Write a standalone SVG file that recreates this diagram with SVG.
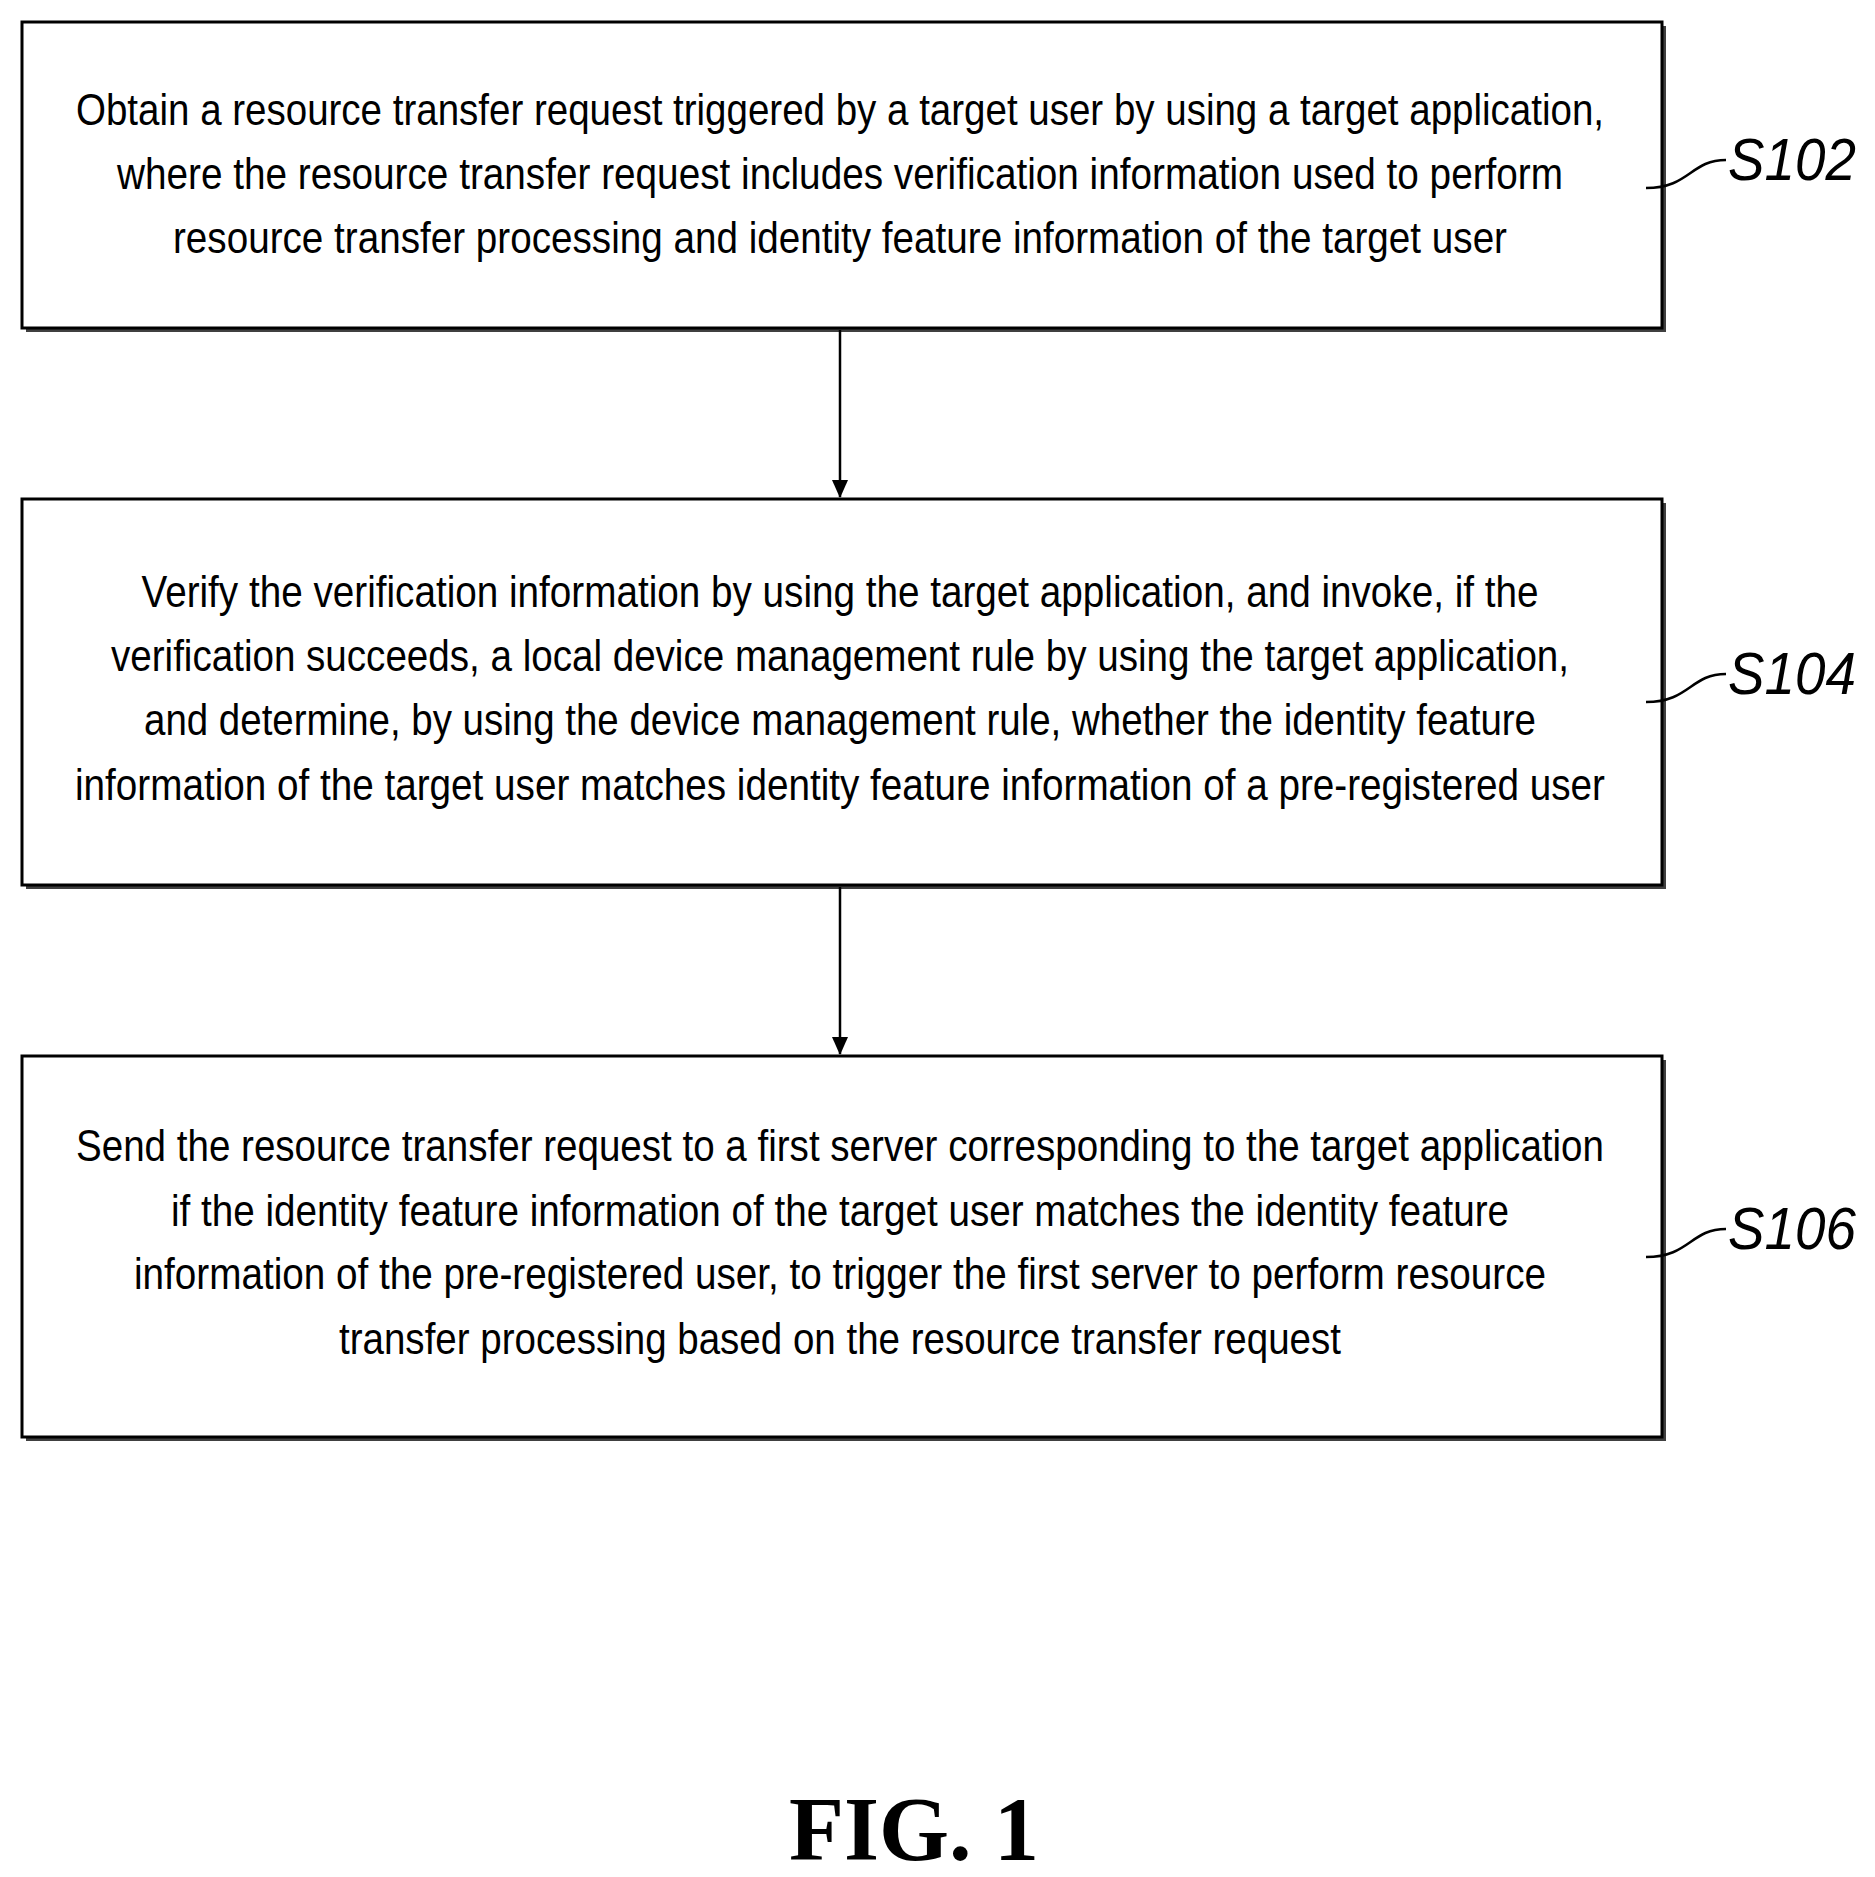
<svg xmlns="http://www.w3.org/2000/svg" width="1875" height="1877" viewBox="0 0 1875 1877">
<style>
.box{fill:#fff;stroke:#000;stroke-width:3}
.sh{fill:#000;opacity:0.75}
.t{font-family:"Liberation Sans",Arial,sans-serif;font-size:44px;text-anchor:middle;fill:#000}
.lbl{font-family:"Liberation Sans",Arial,sans-serif;font-size:60px;font-style:italic;fill:#000}
.c{fill:none;stroke:#000;stroke-width:2.5}
</style>
<defs><marker id="ah" markerWidth="18" markerHeight="18" refX="17" refY="8" orient="auto" markerUnits="userSpaceOnUse"><path d="M0,0 L18,8 L0,16 z" fill="#000"/></marker></defs>
<rect width="1875" height="1877" fill="#fff"/>
<g id="n1">
<rect class="sh" x="26" y="26" width="1640" height="306"/>
<rect class="box" x="22" y="22" width="1640" height="306"/>
<text class="t" x="840" y="125" textLength="1528" lengthAdjust="spacingAndGlyphs">Obtain a resource transfer request triggered by a target user by using a target application,</text>
<text class="t" x="840" y="189" textLength="1446" lengthAdjust="spacingAndGlyphs">where the resource transfer request includes verification information used to perform</text>
<text class="t" x="840" y="253" textLength="1334" lengthAdjust="spacingAndGlyphs">resource transfer processing and identity feature information of the target user</text>
</g>
<g id="n2">
<rect class="sh" x="26" y="503" width="1640" height="386"/>
<rect class="box" x="22" y="499" width="1640" height="386"/>
<text class="t" x="840" y="607" textLength="1397" lengthAdjust="spacingAndGlyphs">Verify the verification information by using the target application, and invoke, if the</text>
<text class="t" x="840" y="671" textLength="1458" lengthAdjust="spacingAndGlyphs">verification succeeds, a local device management rule by using the target application,</text>
<text class="t" x="840" y="735" textLength="1392" lengthAdjust="spacingAndGlyphs">and determine, by using the device management rule, whether the identity feature</text>
<text class="t" x="840" y="800" textLength="1530" lengthAdjust="spacingAndGlyphs">information of the target user matches identity feature information of a pre-registered user</text>
</g>
<g id="n3">
<rect class="sh" x="26" y="1060" width="1640" height="381"/>
<rect class="box" x="22" y="1056" width="1640" height="381"/>
<text class="t" x="840" y="1161" textLength="1528" lengthAdjust="spacingAndGlyphs">Send the resource transfer request to a first server corresponding to the target application</text>
<text class="t" x="840" y="1226" textLength="1338" lengthAdjust="spacingAndGlyphs">if the identity feature information of the target user matches the identity feature</text>
<text class="t" x="840" y="1289" textLength="1412" lengthAdjust="spacingAndGlyphs">information of the pre-registered user, to trigger the first server to perform resource</text>
<text class="t" x="840" y="1354" textLength="1002" lengthAdjust="spacingAndGlyphs">transfer processing based on the resource transfer request</text>
</g>
<g id="connectors">
<line class="c" x1="840" y1="330" x2="840" y2="497" marker-end="url(#ah)"/>
<line class="c" x1="840" y1="887" x2="840" y2="1054" marker-end="url(#ah)"/>
<path class="c" d="M1646,188 C1690,188 1690,160 1726,160"/>
<path class="c" d="M1646,702 C1690,702 1690,674 1726,674"/>
<path class="c" d="M1646,1257 C1690,1257 1690,1229 1726,1229"/>
</g>
<g id="labels">
<text class="lbl" x="1728" y="180" textLength="128" lengthAdjust="spacingAndGlyphs">S102</text>
<text class="lbl" x="1728" y="694" textLength="128" lengthAdjust="spacingAndGlyphs">S104</text>
<text class="lbl" x="1728" y="1249" textLength="128" lengthAdjust="spacingAndGlyphs">S106</text>
<text x="914" y="1860" font-family="Liberation Serif,serif" font-weight="bold" font-size="90" text-anchor="middle">FIG. 1</text>
</g>
</svg>
